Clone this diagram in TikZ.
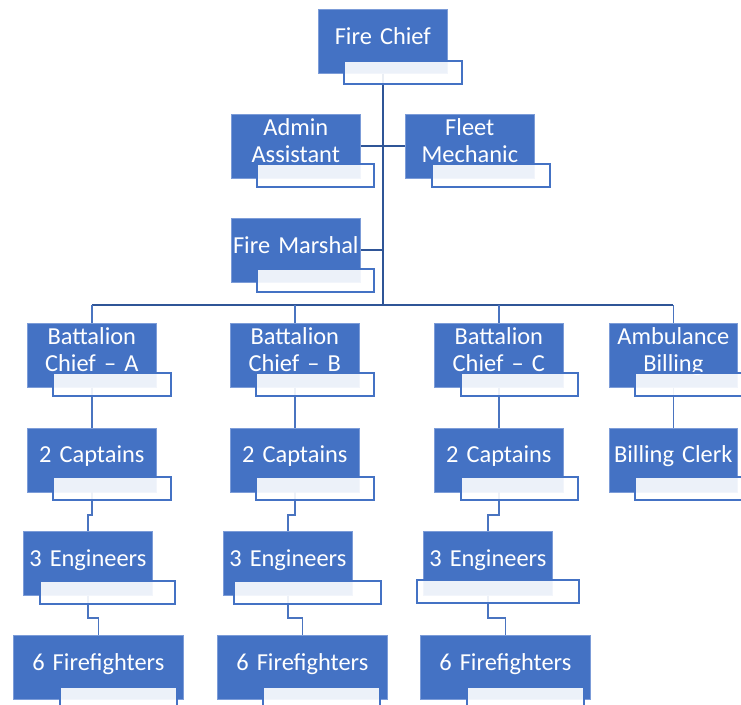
\documentclass[tikz,border=0pt]{standalone}
\usepackage{fontspec}
\setmainfont{Carlito}
\usetikzlibrary{positioning}
\definecolor{boxblue}{HTML}{4472C4}
\definecolor{edgeblue}{HTML}{7C9CD8}
\definecolor{lineblue}{HTML}{4A74C0}
\definecolor{trunkblue}{HTML}{2F5597}

\tikzset{
  role/.style={fill=boxblue, draw=edgeblue, line width=0.6pt, text=white,
    anchor=north west, minimum width=129pt, minimum height=64pt,
    text width=129pt, inner sep=0pt, align=center,
    text height=17pt, text depth=11pt,
    font=\fontsize{24.4}{27}\selectfont},
  twoline/.style={text depth=39pt},
  wide/.style={minimum width=170pt, text width=170pt},
  namebox/.style={fill=white, fill opacity=0.9, draw=boxblue, line width=1.5pt,
    anchor=north west, minimum height=23pt, inner sep=0pt},
  link/.style={draw=lineblue, line width=1.6pt},
  trunk/.style={draw=trunkblue, line width=1.8pt}
}

\begin{document}
\begin{tikzpicture}[x=1pt, y=-1pt]
    \useasboundingbox (0,0) rectangle (741,704);
    \clip (0,0) rectangle (741,704);

    % Head of the department and staff
    \node[role] (chief) at (318,9) {Fire Chief};
    \node[role, twoline] (admin) at (231,114) {Admin\\Assistant};
    \node[role, twoline] (fleet) at (405,114) {Fleet\\Mechanic};
    \node[role] (marshal) at (231,218) {Fire Marshal};
    \coordinate (bus) at (382,305);

    % Battalions and billing
    \node[role, twoline] (bca) at (27,323) {Battalion\\Chief -- A};
    \node[role, twoline] (bcb) at (230,323) {Battalion\\Chief -- B};
    \node[role, twoline] (bcc) at (434,323) {Battalion\\Chief -- C};
    \node[role, twoline, minimum width=128pt, text width=128pt] (amb) at (609,323) {Ambulance\\Billing};

    \node[role, below=40pt of bca] (capa) {2 Captains};
    \node[role, below=40pt of bcb] (capb) {2 Captains};
    \node[role, below=40pt of bcc] (capc) {2 Captains};
    \node[role, minimum width=128pt, text width=128pt, below=40pt of amb] (clerk) {Billing Clerk};

    \node[role] (enga) at (23,531) {3 Engineers};
    \node[role] (engb) at (223,531) {3 Engineers};
    \node[role] (engc) at (423,531) {3 Engineers};

    \node[role, wide] (ffa) at (13,635) {6 Firefighters};
    \node[role, wide] (ffb) at (217,635) {6 Firefighters};
    \node[role, wide] (ffc) at (420,635) {6 Firefighters};

    % Connectors
    \draw[trunk] (chief.south) -- (chief.south |- bus);
    \draw[trunk] (admin.east) -- (fleet.west);
    \draw[trunk] (marshal.east) -- (marshal.east -| chief.south);
    \draw[trunk] (bus -| bca.north) -- (bus -| amb.north);
    \foreach \n in {bca,bcb,bcc,amb} {
        \draw[link] (bus -| \n.north) -- (\n.north);
    }
    \draw[link] (bca.south) -- (capa.north);
    \draw[link] (bcb.south) -- (capb.north);
    \draw[link] (bcc.south) -- (capc.north);
    \draw[link] (amb.south) -- (clerk.north);

    % Elbows down to engineers and firefighters
    \foreach \c/\e/\f in {capa/enga/ffa, capb/engb/ffb, capc/engc/ffc} {
        \draw[link] (\c.south) -- (\c.south |- 0,515) -- (\e.north |- 0,515) -- (\e.north);
        \draw[link] (\e.south) -- (\e.south |- 0,618) -- (\f.north |- 0,618) -- (\f.north);
    }

    % Empty name boxes on top
    \node[namebox, minimum width=118pt] (chiefname) at (343,60) {};
    \node[namebox, minimum width=117pt] (adminname) at (256,163) {};
    \node[namebox, minimum width=118pt] (fleetname) at (431,163) {};
    \node[namebox, minimum width=117pt] (marshalname) at (256,268) {};

    \node[namebox, minimum width=118pt] (bcaname) at (52,372) {};
    \node[namebox, minimum width=118pt] (bcbname) at (255,372) {};
    \node[namebox, minimum width=117pt] (bccname) at (460,372) {};
    \node[namebox, minimum width=118pt] (ambname) at (634,372) {};

    \node[namebox, minimum width=118pt] (capaname) at (52,476) {};
    \node[namebox, minimum width=118pt] (capbname) at (255,476) {};
    \node[namebox, minimum width=117pt] (capcname) at (460,476) {};
    \node[namebox, minimum width=118pt] (clerkname) at (634,476) {};

    \node[namebox, minimum width=135pt] (enganame) at (39,580) {};
    \node[namebox, minimum width=147pt] (engbname) at (233,580) {};
    \node[namebox, minimum width=162pt] (engcname) at (416,579) {};

    \node[namebox, minimum width=117pt] (ffaname) at (59,686) {};
    \node[namebox, minimum width=117pt] (ffbname) at (262,686) {};
    \node[namebox, minimum width=117pt] (ffcname) at (466,686) {};
\end{tikzpicture}
\end{document}
